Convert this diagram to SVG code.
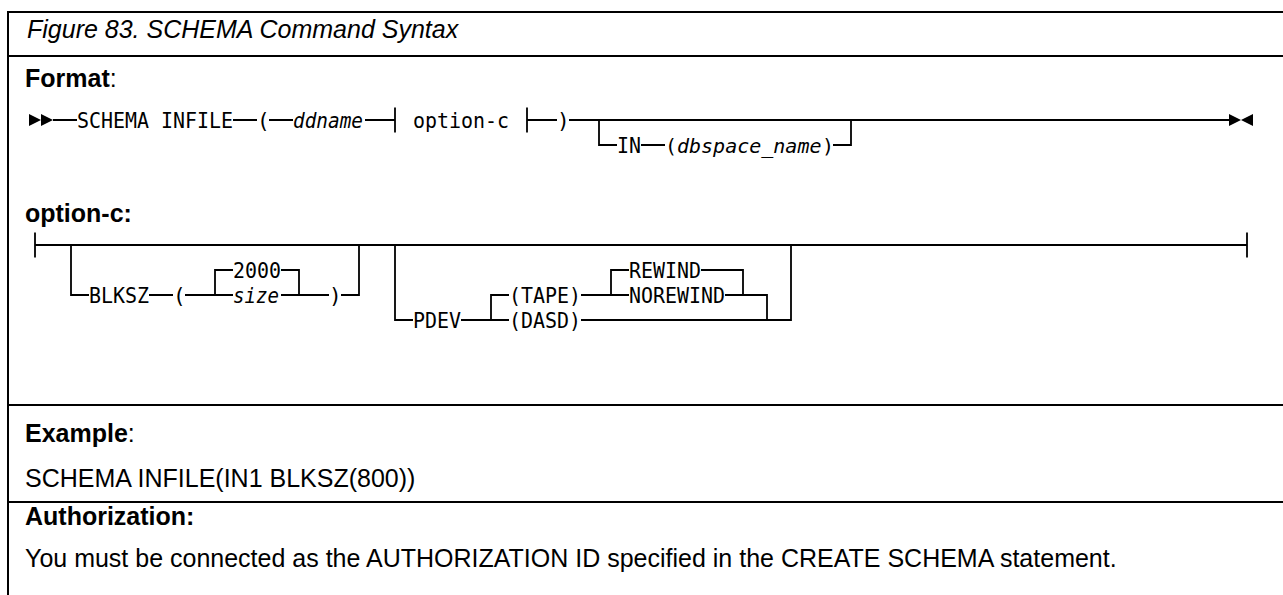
<svg xmlns="http://www.w3.org/2000/svg" width="1283" height="595" viewBox="0 0 1283 595">
<style>
.frame{fill:none;stroke:#000;stroke-width:2}
.sep{stroke:#000;stroke-width:2}
.hd{font-family:"Liberation Sans",Arial,sans-serif;font-size:25px;fill:#000}
.it{font-style:italic}
.b{font-weight:bold}
.mono{font-family:"DejaVu Sans Mono",monospace;font-size:21px;fill:#000}
.m20{font-size:20px}
.var{font-style:italic}
.rail{fill:none;stroke:#000;stroke-width:1.8}
.arr{fill:#000}
</style>
<g id="frame">
<rect class="frame" x="8" y="12" width="1290" height="600"/>
<line class="sep" x1="8" y1="56" x2="1283" y2="56"/>
<line class="sep" x1="8" y1="405" x2="1283" y2="405"/>
<line class="sep" x1="8" y1="502" x2="1283" y2="502"/>
</g>
<g id="labels">
<text class="hd it" x="27" y="38">Figure 83. SCHEMA Command Syntax</text>
<text class="hd" x="25" y="87"><tspan class="b">Format</tspan>:</text>
<text class="hd b" x="25" y="222">option-c:</text>
<text class="hd" x="25" y="442"><tspan class="b">Example</tspan>:</text>
<text class="hd" x="25" y="487">SCHEMA INFILE(IN1 BLKSZ(800))</text>
<text class="hd b" x="25" y="525">Authorization:</text>
<text class="hd" x="25" y="567">You must be connected as the AUTHORIZATION ID specified in the CREATE SCHEMA statement.</text>
</g>
<g id="connectors">
<polygon class="arr" points="29,114 41,120 29,126"/>
<polygon class="arr" points="41,114 53,120 41,126"/>
<polygon class="arr" points="1229,114 1241,120 1229,126"/>
<polygon class="arr" points="1253,114 1241,120 1253,126"/>
<path class="rail" d="M53,120 H77 M233,120 H257 M269,120 H293 M365,120 H395 M395,107.5 V132.5 M527,107.5 V132.5 M527,120 H557 M569,120 H1229"/>
<path class="rail" d="M599,120 V145 H617 M641,145 H665 M833,145 H851 V120"/>
<path class="rail" d="M35,232.5 V257.5 M35,245 H1247 M1247,232.5 V257.5"/>
<path class="rail" d="M71,245 V295 H89 M149,295 H173 M185,295 H233 M281,295 H329 M341,295 H359 V245"/>
<path class="rail" d="M215,295 V270 H233 M281,270 H299 V295"/>
<path class="rail" d="M395,245 V320 H413 M461,320 H509 M581,320 H791 V245"/>
<path class="rail" d="M491,320 V295 H509 M581,295 H629 M725,295 H767 V320"/>
<path class="rail" d="M611,295 V270 H629 M701,270 H743 V295"/>
</g>
<g id="n-schema"><text class="mono" x="77" y="128" textLength="156" lengthAdjust="spacingAndGlyphs">SCHEMA INFILE</text></g>
<g id="n-lparen1"><text class="mono" x="257" y="128">(</text></g>
<g id="n-ddname"><text class="mono var" x="293" y="128" textLength="70" lengthAdjust="spacingAndGlyphs">ddname</text></g>
<g id="n-optionc-ref"><text class="mono" x="413" y="128" textLength="96" lengthAdjust="spacingAndGlyphs">option-c</text></g>
<g id="n-rparen1"><text class="mono" x="557" y="128">)</text></g>
<g id="n-in"><text class="mono" x="617" y="153" textLength="24" lengthAdjust="spacingAndGlyphs">IN</text></g>
<g id="n-dbspace"><text class="mono m20" x="665" y="153">(</text><text class="mono m20 var" x="677" y="153">dbspace_name</text><text class="mono m20" x="822" y="153">)</text></g>
<g id="n-blksz"><text class="mono" x="89" y="303" textLength="60" lengthAdjust="spacingAndGlyphs">BLKSZ</text></g>
<g id="n-lparen2"><text class="mono" x="173" y="303">(</text></g>
<g id="n-2000"><text class="mono" x="233" y="278" textLength="48" lengthAdjust="spacingAndGlyphs">2000</text></g>
<g id="n-size"><text class="mono var" x="233" y="303" textLength="46" lengthAdjust="spacingAndGlyphs">size</text></g>
<g id="n-rparen2"><text class="mono" x="329" y="303">)</text></g>
<g id="n-pdev"><text class="mono" x="413" y="328" textLength="48" lengthAdjust="spacingAndGlyphs">PDEV</text></g>
<g id="n-tape"><text class="mono" x="509" y="303" textLength="72" lengthAdjust="spacingAndGlyphs">(TAPE)</text></g>
<g id="n-dasd"><text class="mono" x="509" y="328" textLength="72" lengthAdjust="spacingAndGlyphs">(DASD)</text></g>
<g id="n-rewind"><text class="mono" x="629" y="278" textLength="72" lengthAdjust="spacingAndGlyphs">REWIND</text></g>
<g id="n-norewind"><text class="mono" x="629" y="303" textLength="96" lengthAdjust="spacingAndGlyphs">NOREWIND</text></g>
</svg>
